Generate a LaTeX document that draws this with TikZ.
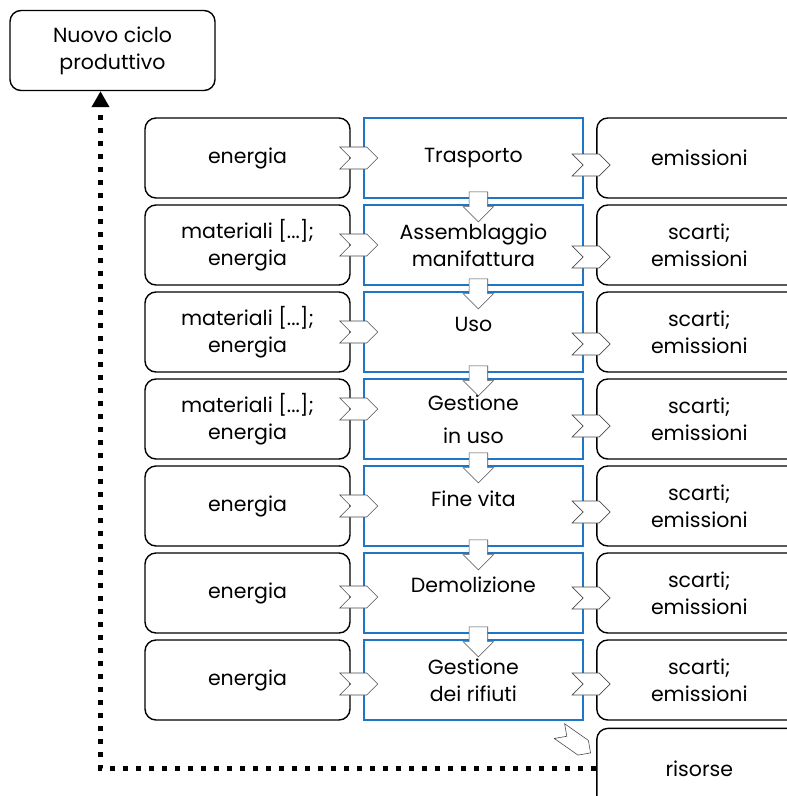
\documentclass[tikz,border=0pt]{standalone}
\usepackage{fontspec}
\setmainfont{Poppins}
\usepackage{xcolor}
\usetikzlibrary{arrows.meta,positioning,shapes.symbols,shapes.arrows}

\definecolor{fasblu}{RGB}{30,118,196}

\begin{document}
\begin{tikzpicture}[
    x=1pt, y=-1pt,
    node distance=5.6pt and 12pt,
    every node/.style={font=\fontsize{20.5}{27}\selectfont},
    flusso/.style={draw, line width=1.4pt, rounded corners=11pt, align=center,
      minimum width=205pt, minimum height=80pt, inner sep=0pt},
    fase/.style={draw=fasblu, line width=2.4pt, align=center,
      minimum width=219pt, minimum height=80pt, inner sep=0pt},
    entra/.style={signal, signal from=west, signal to=east, draw=black!70, fill=white,
      line width=0.6pt, minimum width=38pt, minimum height=22pt, inner sep=0pt},
    passo/.style={single arrow, shape border rotate=270, draw=black!70, fill=white,
      line width=0.6pt, minimum height=30pt, inner sep=9pt,
      single arrow head extend=6pt},
    ciclo/.style={-{Triangle[length=16pt,width=17pt]}, line width=5.5pt,
      dash pattern=on 5.5pt off 7.5pt}
  ]
    \useasboundingbox (0,0) rectangle (787,796);

    \node[flusso] (nuovo) at (112.5,50.5) {Nuovo ciclo\\produttivo};

    % ingressi
    \node[flusso] (e1) at (247.5,158) {energia};
    \node[flusso, below=of e1] (e2) {materiali [...];\\energia};
    \node[flusso, below=of e2] (e3) {materiali [...];\\energia};
    \node[flusso, below=of e3] (e4) {materiali [...];\\energia};
    \node[flusso, below=of e4] (e5) {energia};
    \node[flusso, below=of e5] (e6) {energia};
    \node[flusso, below=of e6] (e7) {energia};

    % fasi
    \node[fase, right=of e1] (p1) {Trasporto};
    \node[fase, right=of e2] (p2) {Assemblaggio\\manifattura};
    \node[fase, right=of e3] (p3) {Uso\\[-12pt]};
    \node[fase, right=of e4] (p4) {Gestione\\[6pt]in uso};
    \node[fase, right=of e5] (p5) {Fine vita\\[-12pt]};
    \node[fase, right=of e6] (p6) {Demolizione\\[-10pt]};
    \node[fase, right=of e7] (p7) {Gestione\\dei rifiuti};

    % uscite
    \node[flusso, right=of p1] (u1) {emissioni};
    \node[flusso, right=of p2] (u2) {scarti;\\emissioni};
    \node[flusso, right=of p3] (u3) {scarti;\\emissioni};
    \node[flusso, right=of p4] (u4) {scarti;\\emissioni};
    \node[flusso, right=of p5] (u5) {scarti;\\emissioni};
    \node[flusso, right=of p6] (u6) {scarti;\\emissioni};
    \node[flusso, right=of p7] (u7) {scarti;\\emissioni};
    \node[flusso, below=7pt of u7, minimum height=80pt] (risorse) {risorse};

    % frecce di ingresso e uscita
    \node[entra] at ([xshift=8pt]e1.east) {};
    \node[entra] at ([xshift=8pt]e2.east) {};
    \node[entra] at ([xshift=8pt]e3.east) {};
    \node[entra] at ([xshift=8pt,yshift=10pt]e4.east) {};
    \node[entra] at ([xshift=8pt]e5.east) {};
    \node[entra] at ([xshift=8pt,yshift=-4pt]e6.east) {};
    \node[entra] at ([xshift=8pt,yshift=-4pt]e7.east) {};
    \node[entra] at ([xshift=7pt,yshift=-7pt]p1.east) {};
    \node[entra] at ([xshift=7pt,yshift=-12pt]p2.east) {};
    \node[entra] at ([xshift=7pt,yshift=-12pt]p3.east) {};
    \node[entra] at ([xshift=7pt,yshift=-7pt]p4.east) {};
    \node[entra] at ([xshift=7pt,yshift=-6pt]p5.east) {};
    \node[entra] at ([xshift=7pt,yshift=-5pt]p6.east) {};
    \node[entra] at ([xshift=7pt,yshift=-4pt]p7.east) {};

    % passaggi tra le fasi
    \node[passo] at ([xshift=5pt,yshift=-3pt]p1.south) {};
    \node[passo] at ([xshift=5pt,yshift=-3pt]p2.south) {};
    \node[passo] at ([xshift=5pt,yshift=-3pt]p3.south) {};
    \node[passo] at ([xshift=5pt,yshift=-3pt]p4.south) {};
    \node[passo] at ([xshift=5pt,yshift=-3pt]p5.south) {};
    \node[passo] at ([xshift=5pt,yshift=-3pt]p6.south) {};

    \node[entra, minimum height=18pt, rotate=-35] at (575,742) {};

    \draw[ciclo] (risorse.west) -| ([xshift=-12pt]nuovo.south);
  \end{tikzpicture}
\end{document}
